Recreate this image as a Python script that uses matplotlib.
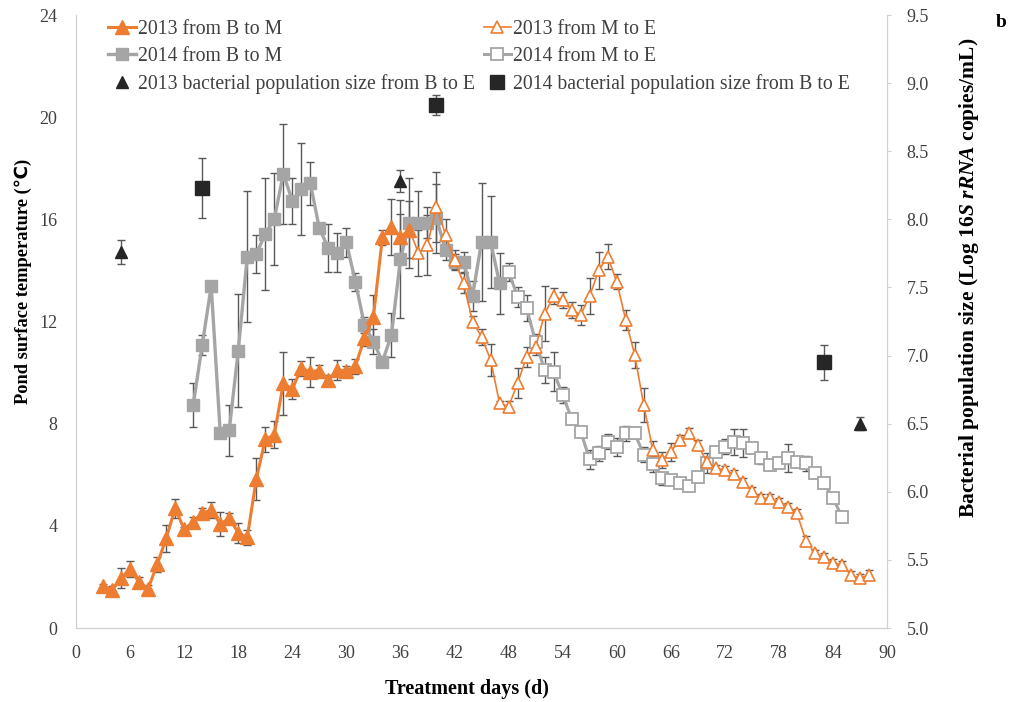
import numpy as np
import matplotlib.pyplot as plt

plt.rcParams['font.family'] = ['Liberation Serif', 'DejaVu Sans']
plt.rcParams['mathtext.fontset'] = 'custom'
plt.rcParams['mathtext.rm'] = 'Liberation Serif:bold'
plt.rcParams['mathtext.it'] = 'Liberation Serif:italic:bold'

# ---- data ----
# 2013, beginning to middle (temperature, daily)
d13_bm = np.arange(3, 38)
t13_bm = [1.64, 1.49, 1.95, 2.31, 1.79, 1.54, 2.49, 3.51, 4.69, 3.86,
          4.16, 4.49, 4.62, 4.07, 4.29, 3.73, 3.55, 5.82, 7.39, 7.56,
          9.58, 9.35, 10.17, 10.04, 10.08, 9.71, 10.10, 10.06, 10.25, 11.34,
          12.19, 15.30, 15.70, 15.30, 15.60]
e13_bm = [0.10, 0.15, 0.38, 0.30, 0.20, 0.15, 0.30, 0.54, 0.37, 0.10,
          0.20, 0.20, 0.30, 0.46, 0.20, 0.40, 0.30, 0.82, 0.49, 0.53,
          1.24, 0.40, 0.30, 0.59, 0.20, 0.20, 0.40, 0.20, 0.30, 0.30,
          0.85, 0.30, 1.08, 0.90, 1.10]

# 2013, middle to end
d13_me = np.arange(38, 89)
t13_me = [14.67, 15.00, 16.50, 15.40, 14.40, 13.50, 12.00, 11.40, 10.50, 8.80,
          8.67, 9.58, 10.62, 11.00, 12.30, 13.00, 12.84, 12.45, 12.26, 13.00,
          14.00, 14.54, 13.56, 12.06, 10.69, 8.73, 6.97, 6.58, 6.90, 7.36,
          7.62, 7.17, 6.51, 6.25, 6.19, 6.02, 5.73, 5.36, 5.08, 5.08,
          4.95, 4.75, 4.49, 3.42, 2.92, 2.79, 2.56, 2.47, 2.08, 1.95, 2.08]
e13_me = [0.90, 1.17, 1.37, 0.60, 0.40, 0.40, 0.20, 0.30, 0.62, 0.10,
          0.20, 0.59, 0.40, 0.30, 1.08, 0.30, 0.30, 0.30, 0.40, 0.70,
          0.72, 0.50, 0.30, 0.40, 0.50, 0.65, 0.35, 0.30, 0.35, 0.20,
          0.20, 0.20, 0.15, 0.15, 0.15, 0.15, 0.15, 0.15, 0.15, 0.15,
          0.15, 0.15, 0.15, 0.20, 0.15, 0.15, 0.15, 0.15, 0.15, 0.15, 0.20]

# 2014, beginning to middle
d14_bm = np.arange(13, 48)
t14_bm = [8.73, 11.08, 13.39, 7.65, 7.75, 10.86, 14.54, 14.64, 15.43, 16.01,
          17.78, 16.73, 17.18, 17.41, 15.65, 14.87, 14.70, 15.10, 13.56, 11.86,
          11.21, 10.43, 11.47, 14.44, 15.87, 15.87, 15.87, 16.04, 14.80, 14.34,
          14.34, 13.00, 15.12, 15.12, 13.50]
e14_bm = [0.85, 0.40, 0.10, 0.15, 1.00, 2.20, 2.56, 0.74, 2.20, 1.80,
          1.95, 0.90, 1.80, 0.85, 0.20, 0.95, 0.77, 0.57, 0.35, 0.30,
          0.50, 0.20, 0.85, 2.30, 1.76, 1.24, 0.60, 1.34, 0.40, 0.30,
          0.40, 0.60, 2.30, 1.80, 1.20]

# 2014, middle to end
d14_me = np.arange(48, 86)
t14_me = [13.95, 12.97, 12.52, 11.21, 10.10, 10.04, 9.12, 8.20, 7.69, 6.60,
          6.84, 7.30, 7.10, 7.62, 7.62, 6.79, 6.42, 5.86, 5.79, 5.69,
          5.56, 5.92, 6.45, 6.90, 7.10, 7.29, 7.23, 7.04, 6.64, 6.38,
          6.45, 6.64, 6.51, 6.45, 6.06, 5.69, 5.08, 4.36]
e14_me = [0.35, 0.40, 0.50, 0.30, 0.50, 0.78, 0.30, 0.20, 0.20, 0.38,
          0.30, 0.30, 0.35, 0.30, 0.20, 0.30, 0.30, 0.25, 0.20, 0.20,
          0.20, 0.20, 0.40, 0.20, 0.30, 0.50, 0.55, 0.20, 0.20, 0.20,
          0.20, 0.55, 0.20, 0.30, 0.20, 0.20, 0.20, 0.20]

# bacterial population size (log copies/mL), right axis
bac13_days = [5, 36, 87]
bac13 = [7.76, 8.28, 6.50]
bac13_err = [0.087, 0.08, 0.05]
bac14_days = [14, 40, 83]
bac14 = [8.23, 8.84, 6.95]
bac14_err = [0.217, 0.076, 0.13]

ORANGE = '#ED7D31'
GRAY = '#A5A5A5'
DARK = '#262626'
ERR = '#595959'
TXT = '#404040'

fig = plt.figure(figsize=(10.14, 7.02), dpi=100)
ax = fig.add_axes([0.075, 0.1054, 0.7998, 0.8732])
ax2 = ax.twinx()

eb = dict(fmt='none', ecolor=ERR, elinewidth=1.0, capsize=3, capthick=1.0, zorder=2)

ax.errorbar(d14_bm, t14_bm, yerr=e14_bm, **eb)
ax.errorbar(d14_me, t14_me, yerr=e14_me, **eb)
ax.errorbar(d13_bm, t13_bm, yerr=e13_bm, **eb)
ax.errorbar(d13_me, t13_me, yerr=e13_me, **eb)

# connecting segments between the two halves of each year
ax.plot([d14_bm[-1], d14_me[0]], [t14_bm[-1], t14_me[0]], color=GRAY, lw=2.2, zorder=3)
ax.plot([d13_bm[-1], d13_me[0]], [t13_bm[-1], t13_me[0]], color=ORANGE, lw=1.2, zorder=3)

h14bm, = ax.plot(d14_bm, t14_bm, color=GRAY, lw=2.4, marker='s', ms=9,
                 mfc=GRAY, mec=GRAY, zorder=3, label='2014 from B to M')
h14me, = ax.plot(d14_me, t14_me, color=GRAY, lw=2.2, marker='s', ms=8,
                 mfc='white', mec=GRAY, mew=1.3, zorder=3, label='2014 from M to E')
h13bm, = ax.plot(d13_bm, t13_bm, color=ORANGE, lw=2.2, marker='^', ms=10,
                 mfc=ORANGE, mec=ORANGE, zorder=4, label='2013 from B to M')
h13me, = ax.plot(d13_me, t13_me, color=ORANGE, lw=1.2, marker='^', ms=9,
                 mfc='white', mec=ORANGE, mew=1.2, zorder=4, label='2013 from M to E')

ax2.errorbar(bac13_days, bac13, yerr=bac13_err, **eb)
ax2.errorbar(bac14_days, bac14, yerr=bac14_err, **eb)
hb13, = ax2.plot(bac13_days, bac13, ls='none', marker='^', ms=8, color=DARK, zorder=4,
                 label='2013 bacterial population size from B to E')
hb14, = ax2.plot(bac14_days, bac14, ls='none', marker='s', ms=10, color=DARK, zorder=4,
                 label='2014 bacterial population size from B to E')

ax.set_xlim(0, 90)
ax.set_ylim(0, 24)
ax2.set_ylim(5.0, 9.5)
ax.set_xticks(np.arange(0, 91, 6))
ax.set_yticks(np.arange(0, 25, 4))
ax2.set_yticks(np.arange(5.0, 9.51, 0.5))
ax2.set_yticklabels([f'{v:.1f}' for v in np.arange(5.0, 9.51, 0.5)])

for a in (ax, ax2):
    for s in a.spines.values():
        s.set_color('#D0D0D0')
    a.spines['top'].set_visible(False)
ax.tick_params(axis='x', length=0, pad=12, labelsize=13, labelcolor=TXT)
ax.tick_params(axis='y', length=0, pad=13.5, labelsize=13, labelcolor=TXT)
ax2.tick_params(axis='y', length=3, color='#D0D0D0', pad=11, labelsize=13, labelcolor=TXT)

ax.set_xlabel('Treatment days (d)', fontsize=14.5, fontweight='bold')
ax.xaxis.set_label_coords(0.482, -0.083)
ax.set_ylabel('Pond surface temperature (℃)', fontsize=13.2, fontweight='bold')
ax.yaxis.set_label_coords(-0.054, 0.565)
ax2.set_ylabel(r'Bacterial population size (Log $\mathit{16S\ rRNA}$ copies/mL)',
               fontsize=15.5, fontweight='bold')
ax2.yaxis.set_label_coords(1.086, 0.571)

handles = [h13bm, h14bm, hb13, h13me, h14me, hb14]
ax2.legend(handles=handles, loc='upper left', bbox_to_anchor=(0.025, 1.012), ncol=2,
           frameon=False, fontsize=14.2, labelcolor=TXT, handlelength=1.4,
           handletextpad=0.1, columnspacing=0.45, labelspacing=0.42, borderaxespad=0.2)

fig.text(0.987, 0.9615, 'b', fontsize=14, fontweight='bold', ha='center')

fig.savefig('out.png', dpi=100)
